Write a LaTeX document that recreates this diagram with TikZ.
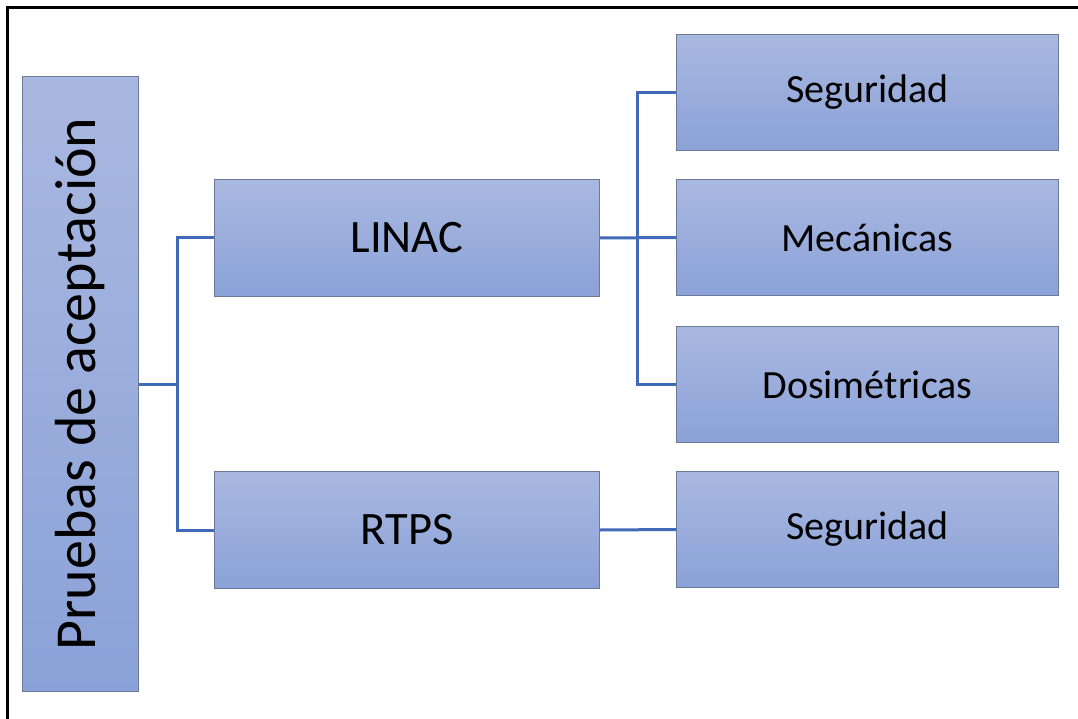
\documentclass[tikz,border=0pt]{standalone}
\usepackage{fontspec}
\setmainfont{Carlito}
\begin{document}
\begin{tikzpicture}[x=1pt,y=-1pt,
  box/.style={draw=boxedge, line width=1pt, top color=boxtop, bottom color=boxbot, inner sep=0pt, anchor=north west, text=black},
  lvl/.style={box, minimum width=385pt, minimum height=117pt, font=\fontsize{46.5}{50}\selectfont},
  leaf/.style={box, minimum width=382pt, minimum height=116pt, font=\fontsize{40}{44}\selectfont},
  conn/.style={draw=connblue, line width=3pt}]
\definecolor{boxtop}{HTML}{A9B8E0}
\definecolor{boxbot}{HTML}{8BA2D8}
\definecolor{boxedge}{HTML}{6C7A99}
\definecolor{connblue}{HTML}{4069B8}
\useasboundingbox (0,0) rectangle (1078,719);
\begin{scope}
\clip (0,0) rectangle (1078,719);
\draw[line width=3pt] (7,740) |- (1100,8);
\end{scope}
\node[box, minimum width=116pt, minimum height=615pt] (root) at (22,76) {};
\node[rotate=90, font=\fontsize{58}{64}\selectfont] at (root.center) {Pruebas de aceptación};
\node[lvl] (linac) at (214,179) {LINAC};
\node[lvl] (rtps) at (214,471) {RTPS};
\node[leaf] (seg1) at (676,34) {Seguridad};
\node[leaf] (mec) at (676,179) {Mecánicas};
\node[leaf] (dos) at (676,326) {Dosimétricas};
\node[leaf] (seg2) at (676,471) {Seguridad};
\coordinate (j1) at (177,384);
\coordinate (j2) at (637,237);
\draw[conn] (root.east |- j1) -- (j1);
\draw[conn] (linac.west) -| (j1) |- (rtps.west);
\draw[conn] (linac.east) -- (mec.west);
\draw[conn] (seg1.west) -| (j2) |- (dos.west);
\draw[conn] (rtps.east) -- (seg2.west);
\end{tikzpicture}
\end{document}
